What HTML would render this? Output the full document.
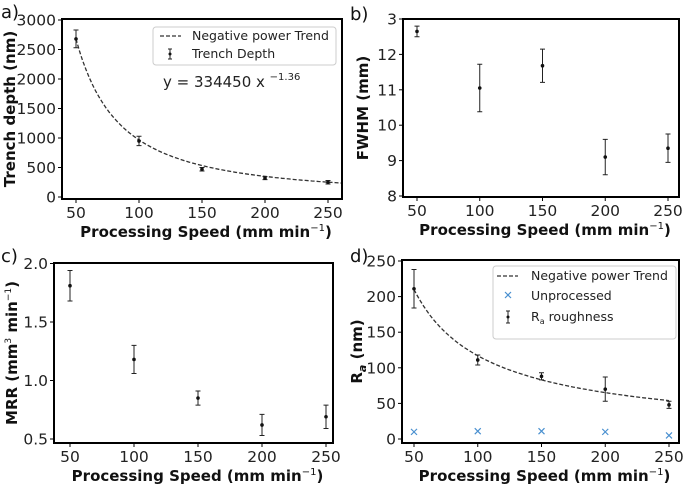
<!DOCTYPE html>
<html><head><meta charset="utf-8"><style>
body{margin:0;background:#fff;}
svg{display:block;font-family:"DejaVu Sans","Liberation Sans",sans-serif;}
.tick{font-size:15.5px;fill:#222;}
.lab{font-size:15px;font-weight:bold;fill:#111;}
.leg{font-size:12.5px;fill:#222;}
</style></head><body>
<svg id="fig" width="685" height="488" viewBox="0 0 685 488"></svg>
<script>
const speeds=[50,100,150,200,250];
const depthVals=[2680,950,470,320,250];
const depthErr=[150,80,30,25,30];
const fwhmVals=[12.65,11.05,11.68,9.1,9.35];
const fwhmErr=[0.15,0.67,0.47,0.5,0.4];
const mrrVals=[1.81,1.18,0.85,0.62,0.69];
const mrrErr=[0.13,0.12,0.06,0.09,0.1];
const raVals=[211,111,88,70,48];
const raErr=[27,7,5,17,5];
const unprocVals=[10,11,11,10,5];
const xTicks=[50,100,150,200,250];
const depthTicks=[0,500,1000,1500,2000,2500,3000];
const fwhmTicks=[8,9,10,11,12,13];
const fwhmTickLabels=['8','9','10','11','12','3'];
const mrrTicks=[0.5,1.0,1.5,2.0];
const mrrTickLabels=['0.5','1.0','1.5','2.0'];
const raTicks=[0,50,100,150,200,250];

const NS='http://www.w3.org/2000/svg';
const svg=document.getElementById('fig');
function mk(tag,attrs,parent,text){const e=document.createElementNS(NS,tag);for(const k in attrs)e.setAttribute(k,attrs[k]);if(text!==undefined)e.textContent=text;(parent||svg).appendChild(e);return e;}
function lin(d0,d1,r0,r1){return v=>r0+(v-d0)*(r1-r0)/(d1-d0);}

function panel(o){
  const g=mk('g',{});
  
  
  const X=lin(50,250,o.x50,o.x250), Y=lin(o.ya,o.yb,o.pya,o.pyb);
  const b=o.box;
  o.yt.forEach((v,i)=>{const y=Y(v);
    mk('line',{x1:b.l-4,x2:b.l,y1:y,y2:y,stroke:'#000','stroke-width':1},g);
    const t=mk('text',{x:b.l-6,y:y+5.5,'text-anchor':'end',class:'tick'},g,o.ytl?o.ytl[i]:String(v));
    });
  xTicks.forEach(v=>{const x=X(v);
    mk('line',{x1:x,x2:x,y1:b.b,y2:b.b+4,stroke:'#000','stroke-width':1},g);
    const t=mk('text',{x:x,y:b.b+19,'text-anchor':'middle',class:'tick'},g,String(v));
    });
  if(o.trend){const pts=[];const x1=o.trendEnd;for(let i=0;i<=80;i++){const xv=50+(x1-50)*i/80;pts.push(X(xv).toFixed(1)+','+Y(o.trend(xv)).toFixed(1));}
    const p=mk('polyline',{points:pts.join(' '),fill:'none',stroke:'#333','stroke-width':1.3,'stroke-dasharray':'4,2'},g);
    }
  if(o.unproc){o.unproc.forEach((v,i)=>{const x=X(speeds[i]),y=Y(v);
    const c=mk('path',{d:`M${x-3},${y-3}L${x+3},${y+3}M${x-3},${y+3}L${x+3},${y-3}`,stroke:'#4a90d0','stroke-width':1.2},g);
    });}
  o.vals.forEach((v,i)=>{const x=X(speeds[i]),y=Y(v),y1=Y(v-o.err[i]),y2=Y(v+o.err[i]);
    const e=mk('path',{d:`M${x},${y1}L${x},${y2}M${x-2.5},${y1}L${x+2.5},${y1}M${x-2.5},${y2}L${x+2.5},${y2}`,stroke:'#222','stroke-width':1},g);
    
    const c=mk('circle',{cx:x,cy:y,r:1.8,fill:'#111'},g);
    });
  const r=mk('rect',{x:b.l,y:b.t,width:b.r-b.l,height:b.b-b.t,fill:'none',stroke:'#000','stroke-width':2},g);
  
  const xl=mk('text',{x:(b.l+b.r)/2+4,y:b.b+38,'text-anchor':'middle',class:'lab'},g);
  
  xl.innerHTML='Processing Speed (mm min<tspan dy="-6" font-size="10" font-weight="normal">−1</tspan><tspan dy="6">)</tspan>';
  const yl=mk('text',{x:0,y:0,'text-anchor':'middle',class:'lab',transform:`translate(${o.ylx},${(b.t+b.b)/2}) rotate(-90)`},g);
  
  yl.innerHTML=o.ylab;
  const pl=mk('text',{x:o.plx,y:o.ply,style:'font-size:18px',fill:'#111'},g,o.letter);
  
  return g;
}
const ga=panel({name:'panel-a-trench-depth',box:{l:62,r:342,t:19,b:199},x50:76,x250:328,ya:0,yb:3000,pya:197,pyb:20,
  yt:depthTicks,vals:depthVals,err:depthErr,trend:x=>2680*Math.pow(x/50,-1.47),trendEnd:261,
  ylx:15,ylab:'Trench depth (nm)',letter:'a)',plx:1,ply:18});
const gb=panel({name:'panel-b-fwhm',box:{l:403,r:679,t:19,b:197},x50:417,x250:668,ya:8,yb:13,pya:196,pyb:19,
  yt:fwhmTicks,ytl:fwhmTickLabels,vals:fwhmVals,err:fwhmErr,ylx:368,ylab:'FWHM (mm)',letter:'b)',plx:350,ply:20});
const gc=panel({name:'panel-c-mrr',box:{l:54,r:333,t:263,b:443},x50:70,x250:326,ya:0.5,yb:2.0,pya:439,pyb:263.5,
  yt:mrrTicks,ytl:mrrTickLabels,vals:mrrVals,err:mrrErr,ylx:17,
  ylab:'MRR (mm<tspan dy="-6" font-size="9" font-weight="normal">3</tspan><tspan dy="6"> min</tspan><tspan dy="-6" font-size="9" font-weight="normal">−1</tspan><tspan dy="6">)</tspan>',
  letter:'c)',plx:1,ply:262});
const gd=panel({name:'panel-d-roughness',box:{l:402,r:679,t:260,b:443},x50:414,x250:669,ya:0,yb:250,pya:439,pyb:261,
  yt:raTicks,vals:raVals,err:raErr,unproc:unprocVals,trend:x=>210*Math.pow(x/50,-0.844),trendEnd:250,
  ylx:362,ylab:'R<tspan dy="4" font-size="11" font-style="italic">a</tspan><tspan dy="-4"> (nm)</tspan>',letter:'d)',plx:350,ply:262});

let la=mk('g',{},ga);
mk('rect',{x:153,y:27,width:183,height:38,rx:3,fill:'#fff',stroke:'#ccc'},la);
mk('line',{x1:160,x2:181,y1:36,y2:36,stroke:'#333','stroke-width':1.3,'stroke-dasharray':'4,2'},la);
mk('text',{x:192,y:40,class:'leg'},la,'Negative power Trend');
mk('path',{d:'M170,49L170,59M168,49L172,49M168,59L172,59',stroke:'#222'},la);mk('circle',{cx:170,cy:54,r:1.5,fill:'#111'},la);
mk('text',{x:192,y:58,class:'leg'},la,'Trench Depth');
const eq=mk('text',{x:163,y:87,style:'font-size:15px',fill:'#222'},ga);

eq.innerHTML='y = 334450 x <tspan dy="-7" font-size="10">−1.36</tspan>';
let ld=mk('g',{},gd);
mk('rect',{x:493,y:266,width:183,height:73,rx:3,fill:'#fff',stroke:'#ccc'},ld);
mk('line',{x1:497,x2:518,y1:276,y2:276,stroke:'#333','stroke-width':1.3,'stroke-dasharray':'4,2'},ld);
mk('text',{x:531,y:280,class:'leg'},ld,'Negative power Trend');
mk('path',{d:'M505,292L511,298M505,298L511,292',stroke:'#4a90d0','stroke-width':1.2},ld);
mk('text',{x:531,y:300,class:'leg'},ld,'Unprocessed');
mk('path',{d:'M508,311L508,323M506,311L510,311M506,323L510,323',stroke:'#222'},ld);mk('circle',{cx:508,cy:317,r:1.5,fill:'#111'},ld);
const rl=mk('text',{x:531,y:321,class:'leg'},ld);rl.innerHTML='R<tspan dy="3" font-size="8">a</tspan><tspan dy="-3"> roughness</tspan>';
</script>
</body></html>
